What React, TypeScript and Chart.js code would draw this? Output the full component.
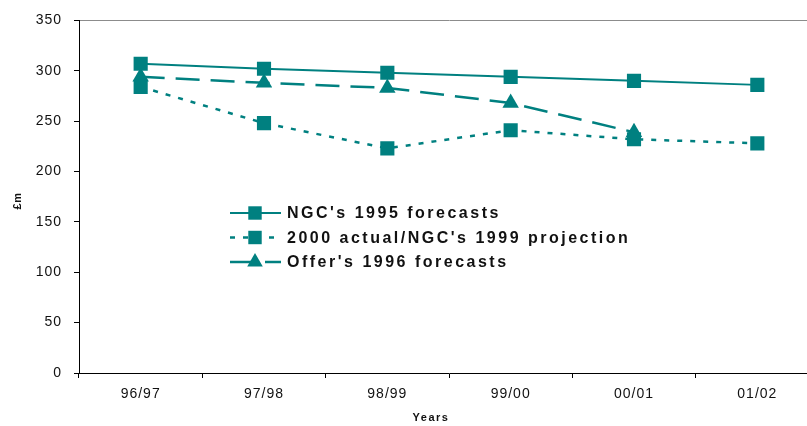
import React, { useEffect, useRef } from "react";
import { Chart, registerables } from "chart.js";

Chart.register(...registerables);

// Categories and series (£m)
const categories = ["96/97", "97/98", "98/99", "99/00", "00/01", "01/02"];
const ngc1995Forecasts = [307, 302, 298, 294, 290, 286];
const actualAndProjection = [284, 248, 223, 241, 232, 228];
const offer1996Forecasts = [294, 288, 283, 268, 239, null];

const seriesLabels = [
  "NGC's 1995 forecasts",
  "2000 actual/NGC's 1999 projection",
  "Offer's 1996 forecasts",
];

const yMin = 0;
const yMax = 350;
const yStep = 50;

const TEAL = "#008080";
const CANVAS_W = 830;
const CANVAS_H = 426;

function drawMarker(ctx: CanvasRenderingContext2D, style: string, x: number, y: number, r: number) {
  ctx.beginPath();
  if (style === "triangle") {
    const h = Math.PI * 2 / 3;
    ctx.moveTo(x, y - r);
    ctx.lineTo(x + Math.sin(h) * r, y - Math.cos(h) * r);
    ctx.lineTo(x + Math.sin(2 * h) * r, y - Math.cos(2 * h) * r);
    ctx.closePath();
  } else {
    const s = Math.SQRT1_2 * r;
    ctx.rect(x - s, y - s, 2 * s, 2 * s);
  }
  ctx.fill();
}

// Legend drawn inside the plot area, plus axis titles
const overlayPlugin = {
  id: "overlay",
  beforeDraw(chart: any) {
    chart.ctx.letterSpacing = "1px";
  },
  afterDraw(chart: any) {
    const ctx: CanvasRenderingContext2D = chart.ctx;
    ctx.save();

    // legend
    const x0 = 230;
    const x1 = 281;
    const mx = 255;
    const tx = 287;
    chart.data.datasets.forEach((ds: any, i: number) => {
      const y = 213 + i * 24.5;
      ctx.strokeStyle = ds.borderColor;
      ctx.lineWidth = ds.borderWidth;
      ctx.setLineDash(ds.borderDash || []);
      ctx.beginPath();
      ctx.moveTo(x0, y);
      ctx.lineTo(x1, y);
      ctx.stroke();
      ctx.setLineDash([]);
      ctx.fillStyle = ds.backgroundColor;
      drawMarker(ctx, ds.pointStyle, mx, y, ds.pointStyle === "triangle" ? 9 : 9.5);
      ctx.fillStyle = "#111";
      ctx.font = "bold 16px 'Liberation Sans', Arial, sans-serif";
      (ctx as any).letterSpacing = "2.5px";
      ctx.textAlign = "left";
      ctx.textBaseline = "middle";
      ctx.fillText(ds.label, tx, y + 1);
    });

    // axis titles
    ctx.fillStyle = "#111";
    ctx.font = "bold 11px 'Liberation Sans', Arial, sans-serif";
    (ctx as any).letterSpacing = "1.5px";
    ctx.textAlign = "center";
    ctx.textBaseline = "middle";
    ctx.fillText("Years", 431, 418);

    ctx.save();
    ctx.translate(18, 201);
    ctx.rotate(-Math.PI / 2);
    (ctx as any).letterSpacing = "0.5px";
    ctx.fillText("£m", 0, 0);
    ctx.restore();

    ctx.restore();
  },
};

export default function App() {
  const canvasRef = useRef<HTMLCanvasElement | null>(null);

  useEffect(() => {
    document.body.style.overflow = "hidden";
    const canvas = canvasRef.current;
    if (!canvas) return;

    const chart = new Chart(canvas, {
      type: "line",
      data: {
        labels: categories,
        datasets: [
          {
            label: seriesLabels[0],
            data: ngc1995Forecasts,
            borderColor: TEAL,
            backgroundColor: TEAL,
            borderWidth: 2,
            pointStyle: "rect",
            pointRadius: 10,
            pointBorderWidth: 0,
            tension: 0,
          },
          {
            label: seriesLabels[1],
            data: actualAndProjection,
            borderColor: TEAL,
            backgroundColor: TEAL,
            borderWidth: 2.5,
            borderDash: [5, 8],
            pointStyle: "rect",
            pointRadius: 10,
            pointBorderWidth: 0,
            tension: 0,
          },
          {
            label: seriesLabels[2],
            data: offer1996Forecasts,
            borderColor: TEAL,
            backgroundColor: TEAL,
            borderWidth: 2.5,
            borderDash: [24, 11],
            pointStyle: "triangle",
            pointRadius: 9.5,
            pointBorderWidth: 0,
            tension: 0,
          },
        ],
      },
      options: {
        responsive: false,
        animation: false,
        devicePixelRatio: 1,
        layout: { padding: { top: 19, right: CANVAS_W - 819, left: 0, bottom: 0 } },
        plugins: {
          legend: { display: false },
          tooltip: { enabled: false },
        },
        scales: {
          x: {
            type: "category",
            offset: true,
            grid: {
              offset: true,
              drawOnChartArea: false,
              drawTicks: true,
              tickLength: 5,
              tickColor: "#000",
            },
            border: { color: "#000", width: 1 },
            ticks: {
              color: "#111",
              font: { family: "'Liberation Sans', Arial, sans-serif", size: 14 },
              padding: 8,
              maxRotation: 0,
            },
            afterFit(scale: any) {
              scale.height = CANVAS_H - 373;
            },
          },
          y: {
            min: yMin,
            max: yMax,
            ticks: {
              stepSize: yStep,
              color: "#111",
              font: { family: "'Liberation Sans', Arial, sans-serif", size: 14 },
              padding: 12,
            },
            grid: {
              color: (c: any) => (c.tick && c.tick.value === yMax ? "#8c8c8c" : "rgba(0,0,0,0)"),
              tickColor: "#000",
              tickLength: 5,
              drawTicks: true,
            },
            border: { color: "#000", width: 1 },
            afterFit(scale: any) {
              scale.width = 79;
            },
          },
        },
      },
      plugins: [overlayPlugin],
    });

    return () => chart.destroy();
  }, []);

  return (
    <div style={{ position: "fixed", left: 0, top: 0, width: CANVAS_W, height: CANVAS_H, background: "#fff" }}>
      <canvas ref={canvasRef} width={CANVAS_W} height={CANVAS_H} style={{ display: "block" }} />
    </div>
  );
}
